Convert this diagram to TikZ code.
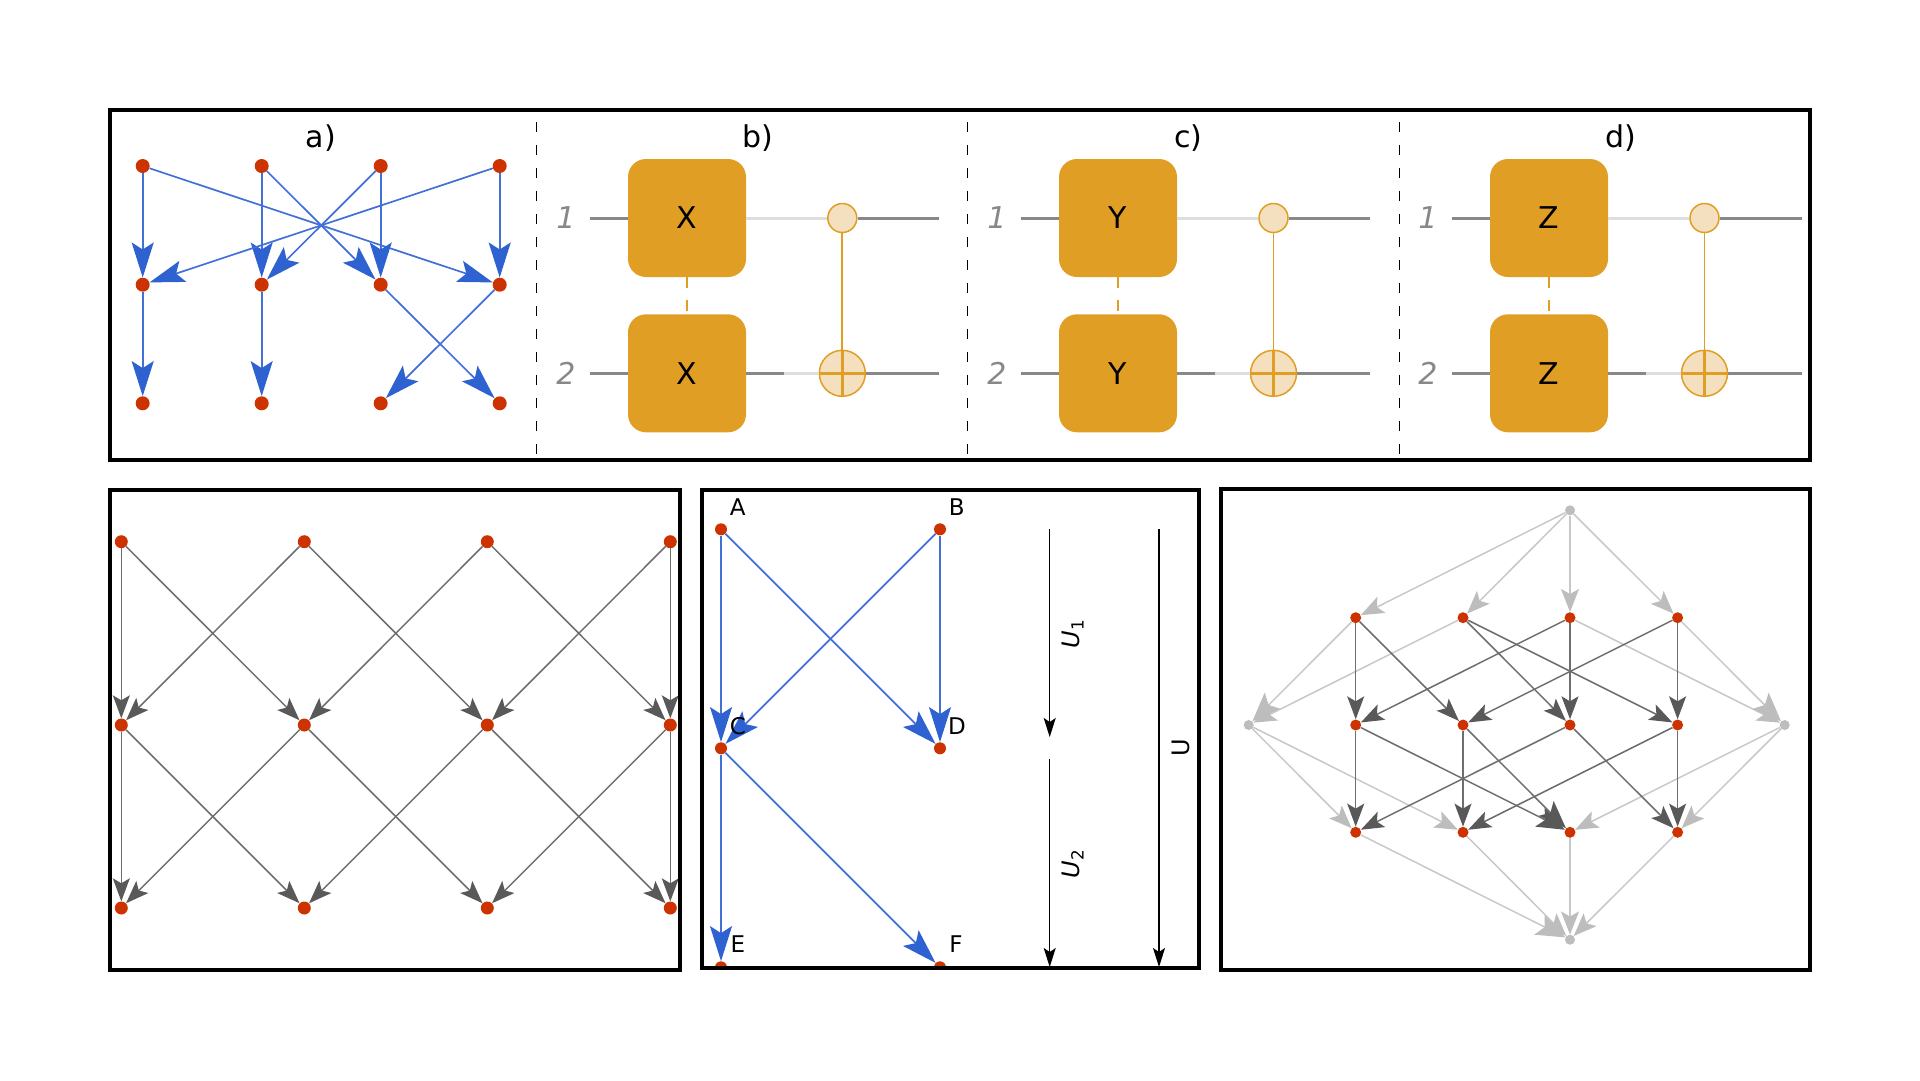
\documentclass[tikz,border=0pt]{standalone}
\usepackage{fontspec}
\setmainfont{DejaVu Sans}
\usetikzlibrary{arrows.meta}
\definecolor{latticeRed}{RGB}{204, 51, 0}
\definecolor{latticeBlue}{RGB}{47, 98, 209}
\definecolor{latticeBlueLine}{RGB}{66, 112, 214}
\definecolor{latticeDark}{RGB}{89, 89, 89}
\definecolor{latticeDarkLine}{RGB}{110, 110, 110}
\definecolor{latticeLight}{RGB}{189, 189, 189}
\definecolor{latticeLightLine}{RGB}{200, 200, 200}
\definecolor{gateGold}{RGB}{224, 158, 36}
\definecolor{gateLight}{RGB}{244, 224, 190}
\definecolor{wireDark}{RGB}{136, 136, 136}
\definecolor{wireLight}{RGB}{222, 222, 222}

\begin{document}
\begin{tikzpicture}[
  x=1pt,y=-1pt,
  dot/.style={circle,fill=latticeRed,inner sep=0pt,minimum size=14pt},
  griddot/.style={dot,minimum size=13pt},
  middot/.style={dot,minimum size=12pt},
  hexdot/.style={dot,minimum size=11pt},
  hexgray/.style={dot,fill=latticeLight,minimum size=10pt},
  blueedge/.style={-{Stealth[length=35pt,width=22pt,inset=7pt,latticeBlue]},line width=1.7pt,latticeBlueLine},
  darkedge/.style={-{Stealth[length=23pt,width=17pt,inset=5pt,latticeDark]},line width=1.5pt,latticeDarkLine},
  bigdarkedge/.style={darkedge,-{Stealth[length=28pt,width=21pt,inset=6pt,latticeDark]}},
  lightedge/.style={-{Stealth[length=23pt,width=18pt,inset=5pt,latticeLight]},line width=1.5pt,latticeLightLine},
  biglightedge/.style={lightedge,-{Stealth[length=29pt,width=23pt,inset=6pt,latticeLight]}},
  timeedge/.style={-{Stealth[length=19pt,width=12pt,inset=4pt,black]},line width=1.4pt,black},
  frame/.style={line width=4pt,black},
  divider/.style={line width=1.4pt,black,dash pattern=on 10pt off 13pt},
  gate/.style={rounded corners=18pt,fill=gateGold,minimum width=118pt,minimum height=118pt,inner sep=0pt,font=\fontsize{30}{36}\selectfont},
  ctrl/.style={circle,draw=gateGold,fill=gateLight,line width=1.5pt,inner sep=0pt,minimum size=29pt},
  target/.style={ctrl,minimum size=46pt},
  wire/.style={line width=3pt,wireDark},
  wirelight/.style={line width=3pt,wireLight},
  link/.style={line width=1.8pt,gateGold},
  linkdash/.style={link,dash pattern=on 11pt off 12pt},
  heading/.style={font=\fontsize{30}{36}\selectfont},
  qubit/.style={font=\fontsize{30}{36}\selectfont\itshape,wireDark},
  letter/.style={font=\fontsize{23}{27}\selectfont},
  span/.style={font=\fontsize{24}{28}\selectfont,rotate=90}
]
  \useasboundingbox (0,0) rectangle (1920,1080);

  \node[heading] (titleA) at (321,138) {a)};
  \node[heading] (titleB) at (757.5,138) {b)};
  \node[heading] (titleC) at (1188.5,138) {c)};
  \node[heading] (titleD) at (1620.5,138) {d)};

  \node[dot] (aT1) at (142.7,166) {};
  \node[dot] (aT2) at (261.7,166) {};
  \node[dot] (aT3) at (380.7,166) {};
  \node[dot] (aT4) at (499.7,166) {};
  \node[dot] (aM1) at (142.7,284.7) {};
  \node[dot] (aM2) at (261.7,284.7) {};
  \node[dot] (aM3) at (380.7,284.7) {};
  \node[dot] (aM4) at (499.7,284.7) {};
  \node[dot] (aB1) at (142.7,403.3) {};
  \node[dot] (aB2) at (261.7,403.3) {};
  \node[dot] (aB3) at (380.7,403.3) {};
  \node[dot] (aB4) at (499.7,403.3) {};
  \draw[blueedge] (aT1) -- (aM1);
  \draw[blueedge] (aT1) -- (aM4);
  \draw[blueedge] (aT2) -- (aM2);
  \draw[blueedge] (aT2) -- (aM3);
  \draw[blueedge] (aT3) -- (aM3);
  \draw[blueedge] (aT3) -- (aM2);
  \draw[blueedge] (aT4) -- (aM4);
  \draw[blueedge] (aT4) -- (aM1);
  \draw[blueedge] (aM1) -- (aB1);
  \draw[blueedge] (aM2) -- (aB2);
  \draw[blueedge] (aM3) -- (aB4);
  \draw[blueedge] (aM4) -- (aB3);

  \coordinate (divAtop) at (536.7,122);
  \coordinate (divAbot) at (536.7,456);
  \coordinate (divBtop) at (967.7,122);
  \coordinate (divBbot) at (967.7,456);
  \coordinate (divCtop) at (1399.2,122);
  \coordinate (divCbot) at (1399.2,456);
  \draw[divider] (divAtop) -- (divAbot);
  \draw[divider] (divBtop) -- (divBbot);
  \draw[divider] (divCtop) -- (divCbot);

  \node[qubit] (numB1) at (566,218) {1};
  \node[qubit] (numB2) at (566,373.3) {2};
  \coordinate (wB1in) at (590,218);
  \coordinate (wB1out) at (939.3,218);
  \coordinate (wB2in) at (590,373.3);
  \coordinate (wB2mid) at (784,373.3);
  \coordinate (wB2out) at (939.3,373.3);
  \node[gate] (gateB1) at (687,218) {X};
  \node[gate] (gateB2) at (687,373.3) {X};
  \draw[linkdash] (gateB1) -- (gateB2);
  \draw[wire] (wB1in) -- (gateB1);
  \draw[wire] (wB2in) -- (gateB2);
  \draw[wire] (gateB2) -- (wB2mid);
  \node[ctrl] (ctrlB) at (842.3,218) {};
  \node[target] (targB) at (842.3,373.3) {};
  \draw[wirelight] (gateB1) -- (ctrlB);
  \draw[wirelight] (wB2mid) -- (targB);
  \draw[wire] (ctrlB) -- (wB1out);
  \draw[wire] (targB) -- (wB2out);
  \draw[link] (ctrlB) -- (targB);
  \draw[link,line width=2.6pt] (targB.north) -- (targB.south);
  \draw[link,line width=2.6pt] (targB.west) -- (targB.east);

  \node[qubit] (numC1) at (997,218) {1};
  \node[qubit] (numC2) at (997,373.3) {2};
  \coordinate (wC1in) at (1021,218);
  \coordinate (wC1out) at (1370.3,218);
  \coordinate (wC2in) at (1021,373.3);
  \coordinate (wC2mid) at (1215,373.3);
  \coordinate (wC2out) at (1370.3,373.3);
  \node[gate] (gateC1) at (1118,218) {Y};
  \node[gate] (gateC2) at (1118,373.3) {Y};
  \draw[linkdash] (gateC1) -- (gateC2);
  \draw[wire] (wC1in) -- (gateC1);
  \draw[wire] (wC2in) -- (gateC2);
  \draw[wire] (gateC2) -- (wC2mid);
  \node[ctrl] (ctrlC) at (1273.5,218) {};
  \node[target] (targC) at (1273.5,373.3) {};
  \draw[wirelight] (gateC1) -- (ctrlC);
  \draw[wirelight] (wC2mid) -- (targC);
  \draw[wire] (ctrlC) -- (wC1out);
  \draw[wire] (targC) -- (wC2out);
  \draw[link] (ctrlC) -- (targC);
  \draw[link,line width=2.6pt] (targC.north) -- (targC.south);
  \draw[link,line width=2.6pt] (targC.west) -- (targC.east);

  \node[qubit] (numD1) at (1428,218) {1};
  \node[qubit] (numD2) at (1428,373.3) {2};
  \coordinate (wD1in) at (1452,218);
  \coordinate (wD1out) at (1802.3,218);
  \coordinate (wD2in) at (1452,373.3);
  \coordinate (wD2mid) at (1646,373.3);
  \coordinate (wD2out) at (1802.3,373.3);
  \node[gate] (gateD1) at (1549,218) {Z};
  \node[gate] (gateD2) at (1549,373.3) {Z};
  \draw[linkdash] (gateD1) -- (gateD2);
  \draw[wire] (wD1in) -- (gateD1);
  \draw[wire] (wD2in) -- (gateD2);
  \draw[wire] (gateD2) -- (wD2mid);
  \node[ctrl] (ctrlD) at (1704.5,218) {};
  \node[target] (targD) at (1704.5,373.3) {};
  \draw[wirelight] (gateD1) -- (ctrlD);
  \draw[wirelight] (wD2mid) -- (targD);
  \draw[wire] (ctrlD) -- (wD1out);
  \draw[wire] (targD) -- (wD2out);
  \draw[link] (ctrlD) -- (targD);
  \draw[link,line width=2.6pt] (targD.north) -- (targD.south);
  \draw[link,line width=2.6pt] (targD.west) -- (targD.east);

  \draw[frame] (110,110) rectangle (1810,459.5);

  \node[griddot] (gT1) at (121.3,541.7) {};
  \node[griddot] (gT2) at (304.3,541.7) {};
  \node[griddot] (gT3) at (487.3,541.7) {};
  \node[griddot] (gT4) at (670.3,541.7) {};
  \node[griddot] (gM1) at (121.3,725) {};
  \node[griddot] (gM2) at (304.3,725) {};
  \node[griddot] (gM3) at (487.3,725) {};
  \node[griddot] (gM4) at (670.3,725) {};
  \node[griddot] (gB1) at (121.3,908) {};
  \node[griddot] (gB2) at (304.3,908) {};
  \node[griddot] (gB3) at (487.3,908) {};
  \node[griddot] (gB4) at (670.3,908) {};
  \draw[darkedge] (gT1) -- (gM1);
  \draw[darkedge] (gT1) -- (gM2);
  \draw[darkedge] (gT2) -- (gM1);
  \draw[darkedge] (gT2) -- (gM3);
  \draw[darkedge] (gT3) -- (gM2);
  \draw[darkedge] (gT3) -- (gM4);
  \draw[darkedge] (gT4) -- (gM3);
  \draw[darkedge] (gT4) -- (gM4);
  \draw[darkedge] (gM1) -- (gB1);
  \draw[darkedge] (gM1) -- (gB2);
  \draw[darkedge] (gM2) -- (gB1);
  \draw[darkedge] (gM2) -- (gB3);
  \draw[darkedge] (gM3) -- (gB2);
  \draw[darkedge] (gM3) -- (gB4);
  \draw[darkedge] (gM4) -- (gB3);
  \draw[darkedge] (gM4) -- (gB4);
  \draw[frame] (110,490) rectangle (680,970);

  \begin{scope}
    \clip (701.7,490) rectangle (1199,968);
    \node[middot] (mA) at (721,529.3) {};
    \node[middot] (mB) at (940,529.3) {};
    \node[middot] (mC) at (721,748.3) {};
    \node[middot] (mD) at (940,748.3) {};
    \node[middot] (mE) at (721,967.3) {};
    \node[middot] (mF) at (940,967.3) {};
  \end{scope}
  \draw[blueedge] (mA) -- (mC);
  \draw[blueedge] (mA) -- (mD);
  \draw[blueedge] (mB) -- (mC);
  \draw[blueedge] (mB) -- (mD);
  \draw[blueedge] (mC) -- (mE);
  \draw[blueedge] (mC) -- (mF);
  \node[letter] (lblA) at (737.7,507) {A};
  \node[letter] (lblB) at (956.7,507) {B};
  \node[letter] (lblC) at (738,726) {C};
  \node[letter] (lblD) at (957,726) {D};
  \node[letter] (lblE) at (738,944) {E};
  \node[letter] (lblF) at (956,944) {F};
  \coordinate (uOneTop) at (1049.7,529);
  \coordinate (uOneBot) at (1049.7,737);
  \coordinate (uTwoTop) at (1049.7,758.7);
  \coordinate (uTwoBot) at (1049.7,967);
  \coordinate (uAllTop) at (1159,529);
  \coordinate (uAllBot) at (1159,967);
  \draw[timeedge] (uOneTop) -- (uOneBot);
  \draw[timeedge] (uTwoTop) -- (uTwoBot);
  \draw[timeedge] (uAllTop) -- (uAllBot);
  \node[span] (lblUone) at (1073,634) {\textit{U}\textsubscript{1}};
  \node[span] (lblUtwo) at (1073,864) {\textit{U}\textsubscript{2}};
  \node[span] (lblU) at (1180.7,748) {U};
  \draw[frame] (701.7,490) rectangle (1199,968);

  \node[hexgray] (hTop) at (1570,510.3) {};
  \node[hexdot] (hA1) at (1355.7,617.7) {};
  \node[hexdot] (hA2) at (1463,617.7) {};
  \node[hexdot] (hA3) at (1570,617.7) {};
  \node[hexdot] (hA4) at (1677.6,617.7) {};
  \node[hexgray] (hLeft) at (1248.7,725) {};
  \node[hexdot] (hB1) at (1355.7,725) {};
  \node[hexdot] (hB2) at (1463,725) {};
  \node[hexdot] (hB3) at (1570,725) {};
  \node[hexdot] (hB4) at (1677.6,725) {};
  \node[hexgray] (hRight) at (1784.7,725) {};
  \node[hexdot] (hC1) at (1355.7,832.3) {};
  \node[hexdot] (hC2) at (1463,832.3) {};
  \node[hexdot] (hC3) at (1570,832.3) {};
  \node[hexdot] (hC4) at (1677.6,832.3) {};
  \node[hexgray] (hBot) at (1570,939.7) {};
  \draw[lightedge] (hTop) -- (hA1);
  \draw[lightedge] (hTop) -- (hA2);
  \draw[lightedge] (hTop) -- (hA3);
  \draw[lightedge] (hTop) -- (hA4);
  \draw[biglightedge] (hA1) -- (hLeft);
  \draw[lightedge] (hA2) -- (hLeft);
  \draw[lightedge] (hA3) -- (hRight);
  \draw[biglightedge] (hA4) -- (hRight);
  \draw[lightedge] (hLeft) -- (hC1);
  \draw[lightedge] (hLeft) -- (hC2);
  \draw[lightedge] (hRight) -- (hC3);
  \draw[lightedge] (hRight) -- (hC4);
  \draw[biglightedge] (hC1) -- (hBot);
  \draw[lightedge] (hC2) -- (hBot);
  \draw[lightedge] (hC3) -- (hBot);
  \draw[lightedge] (hC4) -- (hBot);
  \draw[darkedge] (hA1) -- (hB1);
  \draw[darkedge] (hA1) -- (hB2);
  \draw[darkedge] (hA2) -- (hB3);
  \draw[darkedge] (hA2) -- (hB4);
  \draw[darkedge] (hA3) -- (hB1);
  \draw[darkedge] (hA3) -- (hB3);
  \draw[darkedge] (hA4) -- (hB2);
  \draw[darkedge] (hA4) -- (hB4);
  \draw[darkedge] (hB1) -- (hC1);
  \draw[bigdarkedge] (hB1) -- (hC3);
  \draw[darkedge] (hB2) -- (hC2);
  \draw[bigdarkedge] (hB2) -- (hC3);
  \draw[darkedge] (hB3) -- (hC1);
  \draw[darkedge] (hB3) -- (hC4);
  \draw[darkedge] (hB4) -- (hC2);
  \draw[darkedge] (hB4) -- (hC4);
  \draw[frame] (1221,489) rectangle (1810,970);
\end{tikzpicture}
\end{document}
